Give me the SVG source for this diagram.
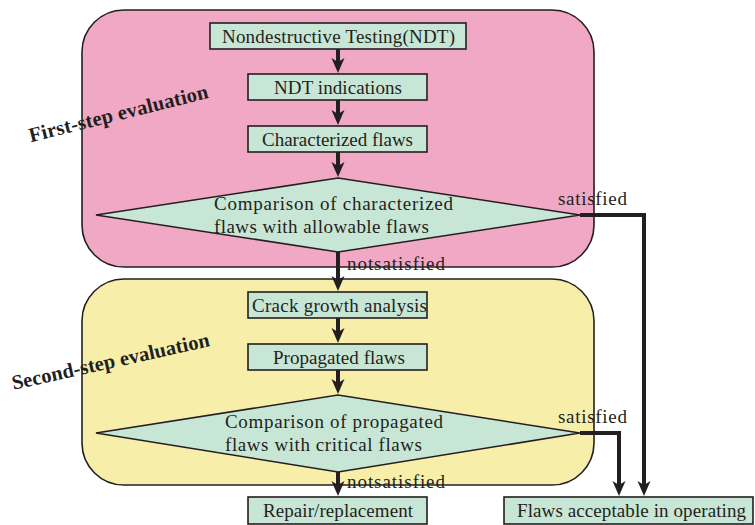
<svg xmlns="http://www.w3.org/2000/svg" xmlns:xlink="http://www.w3.org/1999/xlink" width="755" height="525" viewBox="0 0 755 525">
<defs>
<path id="head" d="M0,0 L-6.5,-15 L0,-11 L6.5,-15 Z" fill="#231f20"/>
<style>
.grp{stroke:#231f20;stroke-width:1.6}
.box{fill:#c8e6d5;stroke:#231f20;stroke-width:1.6}
.t{font-family:'Liberation Serif','Times New Roman',serif;font-size:19px;fill:#231f20}
.title{font-family:'Liberation Serif','Times New Roman',serif;font-size:20.5px;font-weight:bold;fill:#231f20;text-anchor:middle}
.ln{fill:none;stroke:#231f20;stroke-width:4}
</style>
</defs>
<g id="first-step">
<rect class="grp" x="82" y="10" width="512" height="257" rx="42" fill="#f0a8c4"/>
<text class="title" transform="translate(120,120) rotate(-14)" textLength="184" lengthAdjust="spacing">First-step evaluation</text>
</g>
<g id="second-step">
<rect class="grp" x="82" y="279" width="512" height="206" rx="42" fill="#f7eeaa"/>
<text class="title" transform="translate(112,368) rotate(-12.5)" textLength="202" lengthAdjust="spacing">Second-step evaluation</text>
</g>
<g id="connectors">
<line class="ln" x1="338" y1="49" x2="338" y2="62"/>
<use xlink:href="#head" href="#head" x="338" y="73"/>
<line class="ln" x1="338" y1="100" x2="338" y2="114"/>
<use xlink:href="#head" href="#head" x="338" y="125"/>
<line class="ln" x1="338" y1="152" x2="338" y2="166"/>
<use xlink:href="#head" href="#head" x="338" y="177"/>
<line class="ln" x1="338" y1="252" x2="338" y2="280"/>
<use xlink:href="#head" href="#head" x="338" y="291"/>
<line class="ln" x1="338" y1="318" x2="338" y2="332"/>
<use xlink:href="#head" href="#head" x="338" y="343"/>
<line class="ln" x1="338" y1="370" x2="338" y2="383"/>
<use xlink:href="#head" href="#head" x="338" y="394"/>
<line class="ln" x1="338" y1="472" x2="338" y2="485"/>
<use xlink:href="#head" href="#head" x="338" y="496"/>
<polyline class="ln" points="580,215 644,215 644,485"/>
<use xlink:href="#head" href="#head" x="644" y="496"/>
<polyline class="ln" points="580,433 619,433 619,485"/>
<use xlink:href="#head" href="#head" x="619" y="496"/>
<text class="t" x="347" y="270" textLength="98" lengthAdjust="spacing">notsatisfied</text>
<text class="t" x="558" y="205" textLength="69" lengthAdjust="spacing">satisfied</text>
<text class="t" x="347" y="488" textLength="98" lengthAdjust="spacing">notsatisfied</text>
<text class="t" x="558" y="423" textLength="69" lengthAdjust="spacing">satisfied</text>
</g>
<g id="ndt">
<rect class="box" x="210" y="23" width="256" height="26"/>
<text class="t" x="222" y="43" textLength="233" lengthAdjust="spacing">Nondestructive Testing(NDT)</text>
</g>
<g id="ndt-indications">
<rect class="box" x="248" y="74" width="179" height="26"/>
<text class="t" x="274" y="94" textLength="128" lengthAdjust="spacing">NDT indications</text>
</g>
<g id="characterized-flaws">
<rect class="box" x="248" y="126" width="179" height="26"/>
<text class="t" x="262" y="146" textLength="151" lengthAdjust="spacing">Characterized flaws</text>
</g>
<g id="comparison-1">
<polygon class="box" points="96,215 338,178 580,215 338,252"/>
<text class="t" x="214" y="210" textLength="239" lengthAdjust="spacing">Comparison of characterized</text>
<text class="t" x="214" y="233" textLength="215" lengthAdjust="spacing">flaws with allowable flaws</text>
</g>
<g id="crack-growth">
<rect class="box" x="248" y="292" width="179" height="26"/>
<text class="t" x="252" y="312" textLength="175" lengthAdjust="spacing">Crack growth analysis</text>
</g>
<g id="propagated-flaws">
<rect class="box" x="248" y="344" width="179" height="26"/>
<text class="t" x="273" y="364" textLength="132" lengthAdjust="spacing">Propagated flaws</text>
</g>
<g id="comparison-2">
<polygon class="box" points="96,433 338,395 580,433 338,472"/>
<text class="t" x="225" y="428" textLength="218" lengthAdjust="spacing">Comparison of propagated</text>
<text class="t" x="225" y="451" textLength="197" lengthAdjust="spacing">flaws with critical flaws</text>
</g>
<g id="repair">
<rect class="box" x="248" y="497" width="179" height="27"/>
<text class="t" x="263" y="517" textLength="150" lengthAdjust="spacing">Repair/replacement</text>
</g>
<g id="acceptable">
<rect class="box" x="504" y="497" width="249" height="27"/>
<text class="t" x="517" y="517" textLength="229" lengthAdjust="spacing">Flaws acceptable in operating</text>
</g>
</svg>
